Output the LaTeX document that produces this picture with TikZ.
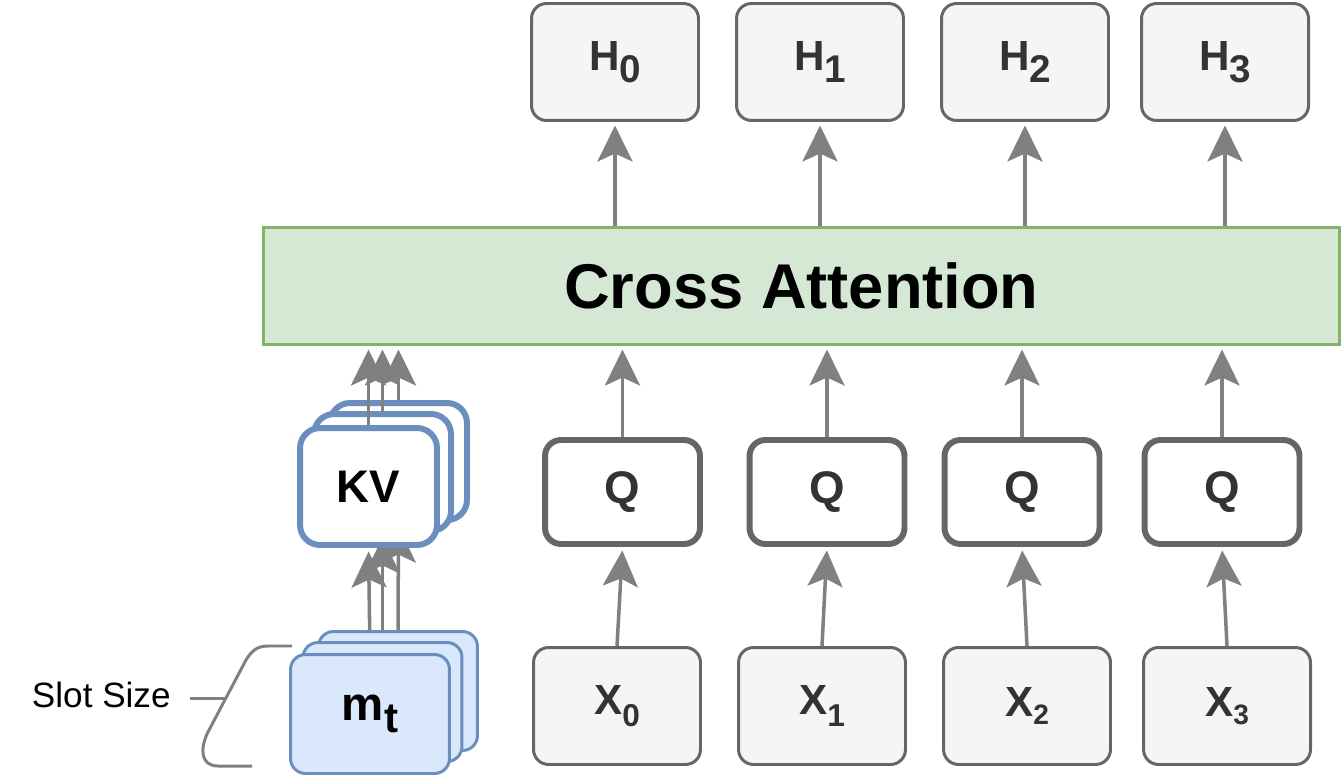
\documentclass[tikz,border=0pt]{standalone}
\usepackage{fontspec}
\setmainfont{Liberation Sans}
\usetikzlibrary{arrows.meta}

\definecolor{boxgray}{HTML}{F5F5F5}
\definecolor{edgegray}{HTML}{666666}
\definecolor{txtgray}{HTML}{333333}
\definecolor{attnfill}{HTML}{D5E8D4}
\definecolor{attnedge}{HTML}{82B366}
\definecolor{memfill}{HTML}{DAE8FC}
\definecolor{memedge}{HTML}{6C8EBF}
\definecolor{flowgray}{HTML}{808080}

\pgfdeclarelayer{bg}
\pgfsetlayers{bg,main}

% label with a lowered index
\newcommand{\boxlab}[4]{#1\raisebox{-#4}{\fontsize{#3}{#3}\selectfont #2}}

\tikzset{
  tokenbox/.style={draw=edgegray, fill=boxgray, line width=1.7pt, rounded corners=0.3cm,
    minimum width=3.34cm, minimum height=2.34cm, inner sep=0pt, text=txtgray,
    font=\fontsize{24}{24}\selectfont\bfseries},
  querybox/.style={draw=edgegray, fill=white, line width=3.4pt, rounded corners=0.32cm,
    minimum width=3.1cm, minimum height=2.08cm, inner sep=0pt, text=txtgray,
    font=\fontsize{26}{26}\selectfont\bfseries},
  kvbox/.style={draw=memedge, fill=white, line width=3.4pt, rounded corners=0.4cm,
    minimum width=2.74cm, minimum height=2.34cm, inner sep=0pt,
    font=\fontsize{26}{26}\selectfont\bfseries},
  membox/.style={draw=memedge, fill=memfill, line width=1.7pt, rounded corners=0.3cm,
    minimum width=3.18cm, minimum height=2.38cm, inner sep=0pt,
    font=\fontsize{27}{27}\selectfont\bfseries},
  attnbox/.style={draw=attnedge, fill=attnfill, line width=1.7pt,
    minimum width=21.54cm, minimum height=2.34cm, inner sep=0pt,
    font=\fontsize{36}{36}\selectfont\bfseries},
  flow/.style={draw=flowgray, line width=2pt, shorten >=2pt,
    -{Stealth[length=0.72cm, width=0.7cm, inset=0.16cm, fill=flowgray]}}
}

\begin{document}
\begin{tikzpicture}[x=0.02cm, y=-0.02cm]
  \useasboundingbox (0,0) rectangle (1344,780);

  % outputs
  \node[tokenbox] (h0) at (615,62) {\boxlab{H}{0}{22pt}{7pt}};
  \node[tokenbox] (h1) at (820,62) {\boxlab{H}{1}{22pt}{7pt}};
  \node[tokenbox] (h2) at (1025,62) {\boxlab{H}{2}{22pt}{7pt}};
  \node[tokenbox] (h3) at (1225,62) {\boxlab{H}{3}{22pt}{7pt}};

  % attention block
  \node[attnbox] (ca) at (801.5,286) {Cross Attention};

  % queries
  \node[querybox] (q0) at (622.5,492) {Q};
  \node[querybox] (q1) at (827,492) {Q};
  \node[querybox] (q2) at (1022,492) {Q};
  \node[querybox] (q3) at (1222,492) {Q};

  % inputs
  \node[tokenbox] (x0) at (617,706) {\boxlab{X}{0}{18pt}{7pt}};
  \node[tokenbox] (x1) at (822,706) {\boxlab{X}{1}{18pt}{7pt}};
  \node[tokenbox] (x2) at (1027,706) {\boxlab{X}{2}{16pt}{4.5pt}};
  \node[tokenbox] (x3) at (1227,706) {\boxlab{X}{3}{16pt}{4.5pt}};

  % memory slots, back to front
  \node[membox] (m2) at (398,691) {};
  \node[membox] (m1) at (382.5,702) {};
  \node[membox] (m0) at (370,714) {\boxlab{m}{t}{24pt}{6.6pt}};

  % key/value stack, back to front
  \node[kvbox] (kv2) at (398.5,461.5) {};
  \node[kvbox] (kv1) at (382.5,472.5) {};
  \node[kvbox] (kv0) at (368.5,486.5) {KV};

  % memory -> key/value (behind the stack)
  \begin{pgfonlayer}{bg}
    \draw[flow] (m2.north) -- (kv2.south);
    \draw[flow] (m1.north) -- (kv1.south);
    \draw[flow] (m0.north) -- (kv0.south);
  \end{pgfonlayer}

  % key/value -> attention
  \draw[flow] (kv2.north) -- (ca.south -| kv2.north);
  \draw[flow] (kv1.north) -- (ca.south -| kv1.north);
  \draw[flow] (kv0.north) -- (ca.south -| kv0.north);

  % inputs -> queries -> attention -> outputs
  \draw[flow] (x0.north) -- (q0.south);
  \draw[flow] (x1.north) -- (q1.south);
  \draw[flow] (x2.north) -- (q2.south);
  \draw[flow] (x3.north) -- (q3.south);
  \draw[flow] (q0.north) -- (ca.south -| q0.north);
  \draw[flow] (q1.north) -- (ca.south -| q1.north);
  \draw[flow] (q2.north) -- (ca.south -| q2.north);
  \draw[flow] (q3.north) -- (ca.south -| q3.north);
  \draw[flow] (ca.north -| h0.south) -- (h0.south);
  \draw[flow] (ca.north -| h1.south) -- (h1.south);
  \draw[flow] (ca.north -| h2.south) -- (h2.south);
  \draw[flow] (ca.north -| h3.south) -- (h3.south);

  % slot size bracket
  \draw[flowgray, line width=1.7pt] (292,646) -- (268,646)
    .. controls (258,646) and (252,650) .. (246,660) -- (208,732)
    .. controls (200,748) and (200,766) .. (218,766) -- (252,766);
  \draw[flowgray, line width=1.7pt] (190,698) -- (226,698);
  \node[anchor=base east, inner sep=0pt, font=\fontsize{20}{20}\selectfont] (slot) at (171,707) {Slot Size};
\end{tikzpicture}
\end{document}
